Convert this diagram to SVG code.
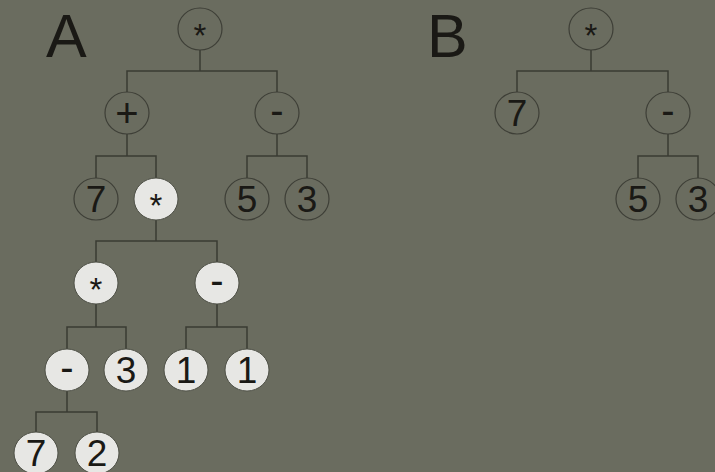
<svg xmlns="http://www.w3.org/2000/svg" width="715" height="472" viewBox="0 0 715 472">
<style>
.c{stroke:#3a3b33;stroke-width:1.5;fill:none}
.o{fill:#6a6c5f;stroke:#3e3f37;stroke-width:1.2}
.w{fill:#e7e7e4;stroke:#4e5046;stroke-width:1}
text{font-family:"Liberation Sans",Arial,sans-serif;fill:#1a1915;text-anchor:middle}
.d{font-size:37px}
.s{font-size:33px}
.p{font-size:40px}
.big{font-size:61px;text-anchor:start}
</style>
<rect width="715" height="472" fill="#6a6c5f"/>
<text class="big" x="46" y="57">A</text>
<text class="big" x="427" y="57">B</text>
<g id="connectors">
<path class="c" d="M200 50V71M127 92V71H277V92"/>
<path class="c" d="M127 134V156M96 178V156H156V178"/>
<path class="c" d="M277 134V156M247 178V156H307V178"/>
<path class="c" d="M156 220V241M96 262V241H217V262"/>
<path class="c" d="M96 304V327M67 349V327H126V349"/>
<path class="c" d="M217 304V327M186 349V327H247V349"/>
<path class="c" d="M67 391V412M36 432V412H97V432"/>
<path class="c" d="M591 50V71M517 92V71H668V92"/>
<path class="c" d="M668 134V156M638 178V156H698V178"/>
</g>
<g id="a1"><ellipse class="o" cx="200" cy="29" rx="22" ry="21"/><text class="s" x="200" y="47">*</text></g>
<g id="a2"><ellipse class="o" cx="127" cy="113" rx="22" ry="21"/><text class="p" x="127" y="127">+</text></g>
<g id="a3"><ellipse class="o" cx="277" cy="113" rx="22" ry="21"/><text class="p" x="277" y="124">-</text></g>
<g id="a4"><ellipse class="o" cx="96" cy="199" rx="22" ry="21"/><text class="d" x="96" y="212">7</text></g>
<g id="a5"><ellipse class="w" cx="156" cy="199" rx="22" ry="21"/><text class="s" x="156" y="217">*</text></g>
<g id="a6"><ellipse class="o" cx="247" cy="199" rx="22" ry="21"/><text class="d" x="247" y="212">5</text></g>
<g id="a7"><ellipse class="o" cx="307" cy="199" rx="22" ry="21"/><text class="d" x="307" y="212">3</text></g>
<g id="a8"><ellipse class="w" cx="96" cy="283" rx="22" ry="21"/><text class="s" x="96" y="301">*</text></g>
<g id="a9"><ellipse class="w" cx="217" cy="283" rx="22" ry="21"/><text class="p" x="217" y="294">-</text></g>
<g id="a10"><ellipse class="w" cx="67" cy="370" rx="22" ry="21"/><text class="p" x="67" y="381">-</text></g>
<g id="a11"><ellipse class="w" cx="126" cy="370" rx="22" ry="21"/><text class="d" x="126" y="383">3</text></g>
<g id="a12"><ellipse class="w" cx="186" cy="370" rx="22" ry="21"/><text class="d" x="186" y="383">1</text></g>
<g id="a13"><ellipse class="w" cx="247" cy="370" rx="22" ry="21"/><text class="d" x="247" y="383">1</text></g>
<g id="a14"><ellipse class="w" cx="36" cy="453" rx="22" ry="21"/><text class="d" x="36" y="466">7</text></g>
<g id="a15"><ellipse class="w" cx="97" cy="453" rx="22" ry="21"/><text class="d" x="97" y="466">2</text></g>
<g id="b1"><ellipse class="o" cx="591" cy="29" rx="22" ry="21"/><text class="s" x="591" y="47">*</text></g>
<g id="b2"><ellipse class="o" cx="517" cy="113" rx="22" ry="21"/><text class="d" x="517" y="126">7</text></g>
<g id="b3"><ellipse class="o" cx="668" cy="113" rx="22" ry="21"/><text class="p" x="668" y="124">-</text></g>
<g id="b4"><ellipse class="o" cx="638" cy="199" rx="22" ry="21"/><text class="d" x="638" y="212">5</text></g>
<g id="b5"><ellipse class="o" cx="698" cy="199" rx="22" ry="21"/><text class="d" x="698" y="212">3</text></g>
</svg>
